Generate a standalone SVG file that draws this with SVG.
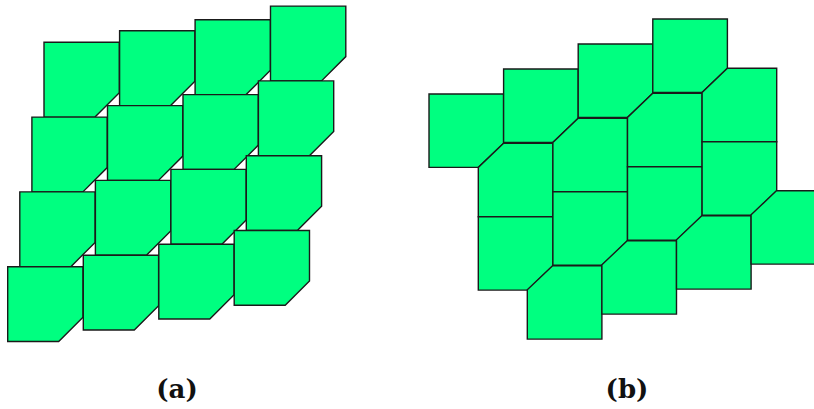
<svg xmlns="http://www.w3.org/2000/svg" width="814" height="409" viewBox="0 0 814 409">
<style>
.t{fill:#00ff80;stroke:#1a1a1a;stroke-width:1.4;stroke-linejoin:miter}
.lbl{font-family:"DejaVu Serif","Liberation Serif",serif;font-weight:bold;font-size:26px;fill:#111;text-anchor:middle}
</style>
<defs>
<path id="pa" d="M0,0 H75.3 V50.5 L51,74.8 H0 Z"/>
<path id="pbr" d="M0,0 H74.6 V49.3 L49.3,73.4 H0 Z"/>
<path id="ptl" d="M25.3,0 H74.6 V73.4 H0 V24.1 Z"/>
</defs>
<rect width="814" height="409" fill="#fff"/>
<g id="panel-a">
<g id="a-r1c1"><use href="#pa" class="t" x="44" y="42.3"/></g>
<g id="a-r1c2"><use href="#pa" class="t" x="119.6" y="30.8"/></g>
<g id="a-r1c3"><use href="#pa" class="t" x="195.1" y="19.8"/></g>
<g id="a-r1c4"><use href="#pa" class="t" x="270.5" y="6.1"/></g>
<g id="a-r2c1"><use href="#pa" class="t" x="31.9" y="117.1"/></g>
<g id="a-r2c2"><use href="#pa" class="t" x="107.5" y="105.6"/></g>
<g id="a-r2c3"><use href="#pa" class="t" x="183" y="94.6"/></g>
<g id="a-r2c4"><use href="#pa" class="t" x="258.4" y="80.9"/></g>
<g id="a-r3c1"><use href="#pa" class="t" x="19.8" y="191.9"/></g>
<g id="a-r3c2"><use href="#pa" class="t" x="95.4" y="180.4"/></g>
<g id="a-r3c3"><use href="#pa" class="t" x="170.9" y="169.4"/></g>
<g id="a-r3c4"><use href="#pa" class="t" x="246.3" y="155.7"/></g>
<g id="a-r4c1"><use href="#pa" class="t" x="7.7" y="266.7"/></g>
<g id="a-r4c2"><use href="#pa" class="t" x="83.3" y="255.2"/></g>
<g id="a-r4c3"><use href="#pa" class="t" x="158.8" y="244.2"/></g>
<g id="a-r4c4"><use href="#pa" class="t" x="234.2" y="230.5"/></g>
</g>
<g id="panel-b">
<g id="b-r1c1"><use href="#pbr" class="t" x="429" y="94"/></g>
<g id="b-r1c2"><use href="#pbr" class="t" x="503.6" y="69"/></g>
<g id="b-r1c3"><use href="#pbr" class="t" x="578.2" y="44"/></g>
<g id="b-r1c4"><use href="#pbr" class="t" x="652.8" y="19"/></g>
<g id="b-r2c1"><use href="#ptl" class="t" x="478.3" y="143.3"/></g>
<g id="b-r2c2"><use href="#ptl" class="t" x="552.9" y="118.3"/></g>
<g id="b-r2c3"><use href="#ptl" class="t" x="627.5" y="93.3"/></g>
<g id="b-r2c4"><use href="#ptl" class="t" x="702.1" y="68.3"/></g>
<g id="b-r3c1"><use href="#pbr" class="t" x="478.3" y="216.7"/></g>
<g id="b-r3c2"><use href="#pbr" class="t" x="552.9" y="191.7"/></g>
<g id="b-r3c3"><use href="#pbr" class="t" x="627.5" y="166.7"/></g>
<g id="b-r3c4"><use href="#pbr" class="t" x="702.1" y="141.7"/></g>
<g id="b-r4c1"><use href="#ptl" class="t" x="527.3" y="265.7"/></g>
<g id="b-r4c2"><use href="#ptl" class="t" x="601.9" y="240.7"/></g>
<g id="b-r4c3"><use href="#ptl" class="t" x="676.5" y="215.7"/></g>
<g id="b-r4c4"><use href="#ptl" class="t" x="751.1" y="190.7"/></g>
</g>
<g id="labels">
<text class="lbl" x="177" y="398">(a)</text>
<text class="lbl" x="627" y="398">(b)</text>
</g>
</svg>
